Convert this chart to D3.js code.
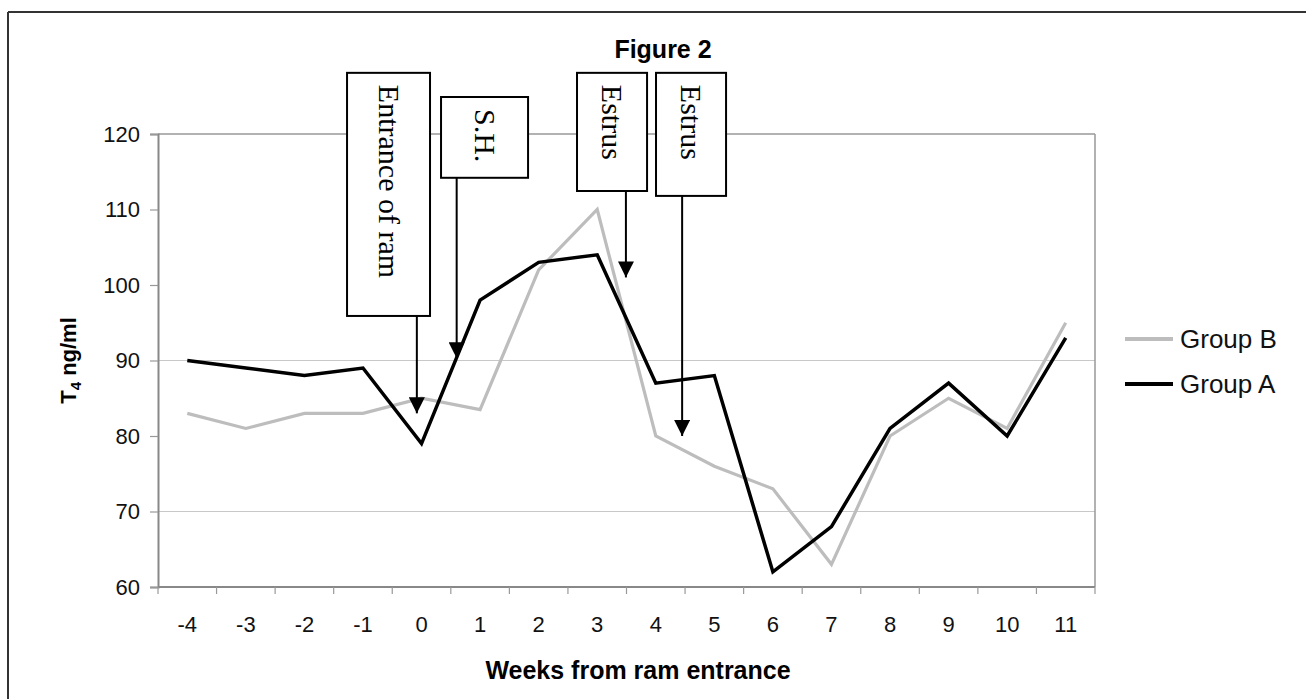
<!DOCTYPE html>
<html>
<head>
<meta charset="utf-8">
<script src="https://cdn.jsdelivr.net/npm/d3@7"></script>
<style>
  html, body { margin: 0; padding: 0; background: #fff; }
  svg { display: block; }
</style>
</head>
<body>
<svg id="chart" width="1314" height="699"></svg>
<script>
// ---- data ----
const weeks = [-4, -3, -2, -1, 0, 1, 2, 3, 4, 5, 6, 7, 8, 9, 10, 11];
const groupA = [90, 89, 88, 89, 79, 98, 103, 104, 87, 88, 62, 68, 81, 87, 80, 93];
const groupB = [83, 81, 83, 83, 85, 83.5, 102, 110, 80, 76, 73, 63, 80, 85, 81, 95];
const yTicks = [60, 70, 80, 90, 100, 110, 120];
const gridValues = [70, 90];
const seriesNames = ["Group B", "Group A"];
const seriesColors = ["#bdbdbd", "#000000"];

// annotations (week position of arrow, arrow tip value, box extents in weeks / values)
const annLabels = ["Entrance of ram", "S.H.", "Estrus", "Estrus"];
const annArrowWeek = [-0.08, 0.60, 3.49, 4.45];
const annArrowTip = [83.0, 90.3, 101.0, 80.0];
const annBoxLeft = [-1.272, 0.333, 2.655, 4.004];
const annBoxRight = [0.145, 1.819, 3.851, 5.200];
const annBoxTop = [128.1, 124.9, 128.1, 128.1];
const annBoxBottom = [95.9, 114.2, 112.45, 111.8];

const titleText = "Figure 2";
const xTitle = "Weeks from ram entrance";

// ---- layout ----
const svg = d3.select("#chart");
const plot = { left: 158, right: 1095, top: 134, bottom: 587 };

const x = d3.scalePoint().domain(weeks).range([plot.left, plot.right]).padding(0.5);
const step = x.step();
const xw = w => x(weeks[0]) + (w - weeks[0]) * step;
const y = d3.scaleLinear().domain([60, 120]).range([plot.bottom, plot.top]);

// outer frame (top + left)
svg.append("line").attr("x1", 8).attr("x2", 1306).attr("y1", 12).attr("y2", 12)
  .attr("stroke", "#333").attr("stroke-width", 2);
svg.append("line").attr("x1", 8).attr("x2", 8).attr("y1", 12).attr("y2", 699)
  .attr("stroke", "#333").attr("stroke-width", 2);

// gridlines
svg.append("g").selectAll("line").data(gridValues).join("line")
  .attr("x1", plot.left).attr("x2", plot.right)
  .attr("y1", d => y(d)).attr("y2", d => y(d))
  .attr("stroke", "#c8c8c8").attr("stroke-width", 1);

// plot border (top and right)
svg.append("line").attr("x1", plot.left).attr("x2", plot.right)
  .attr("y1", y(120)).attr("y2", y(120)).attr("stroke", "#999").attr("stroke-width", 1.5);
svg.append("line").attr("x1", plot.right).attr("x2", plot.right)
  .attr("y1", y(120)).attr("y2", y(60)).attr("stroke", "#999").attr("stroke-width", 1.5);

// y axis
const yAxis = d3.axisLeft(y).tickValues(yTicks).tickSize(8).tickPadding(10);
const gy = svg.append("g").attr("transform", `translate(${plot.left},0)`).call(yAxis);
gy.select(".domain").attr("stroke", "#888").attr("stroke-width", 2);
gy.selectAll(".tick line").attr("stroke", "#999").attr("stroke-width", 1.2);
gy.selectAll(".tick text").attr("font-family", "Liberation Sans, Arial, sans-serif")
  .attr("font-size", 22).attr("fill", "#111");

// x axis (ticks at category boundaries)
const gx = svg.append("g").attr("transform", `translate(0,${plot.bottom})`);
gx.append("line").attr("x1", plot.left).attr("x2", plot.right).attr("y1", 0).attr("y2", 0)
  .attr("stroke", "#888").attr("stroke-width", 2);
const bounds = d3.range(weeks.length + 1).map(i => plot.left + i * step);
gx.selectAll("line.tk").data(bounds).join("line").attr("class", "tk")
  .attr("x1", d => d).attr("x2", d => d).attr("y1", 0).attr("y2", 7)
  .attr("stroke", "#999").attr("stroke-width", 1.2);
gx.selectAll("text").data(weeks).join("text")
  .attr("x", d => x(d)).attr("y", 45)
  .attr("text-anchor", "middle")
  .attr("font-family", "Liberation Sans, Arial, sans-serif")
  .attr("font-size", 22).attr("fill", "#111")
  .text(d => d);

// lines
const line = d3.line().x((d, i) => x(weeks[i])).y(d => y(d));
svg.append("path").datum(groupB).attr("d", line)
  .attr("fill", "none").attr("stroke", seriesColors[0]).attr("stroke-width", 3.2)
  .attr("stroke-linejoin", "miter");
svg.append("path").datum(groupA).attr("d", line)
  .attr("fill", "none").attr("stroke", seriesColors[1]).attr("stroke-width", 3.5)
  .attr("stroke-linejoin", "miter");

// annotations
const defs = svg.append("defs");
defs.append("marker").attr("id", "arrow")
  .attr("viewBox", "0 0 16 16").attr("refX", 16).attr("refY", 8)
  .attr("markerWidth", 16).attr("markerHeight", 16)
  .attr("markerUnits", "userSpaceOnUse").attr("orient", "auto")
  .append("path").attr("d", "M0,0 L16,8 L0,16 Z").attr("fill", "#000");

const ann = svg.append("g");
annLabels.forEach((lab, i) => {
  const bx0 = xw(annBoxLeft[i]), bx1 = xw(annBoxRight[i]);
  const by0 = y(annBoxTop[i]), by1 = y(annBoxBottom[i]);
  ann.append("rect").attr("x", bx0).attr("y", by0)
    .attr("width", bx1 - bx0).attr("height", by1 - by0)
    .attr("fill", "#fff").attr("stroke", "#000").attr("stroke-width", 2);
  const cx = (bx0 + bx1) / 2;
  ann.append("text")
    .attr("transform", `translate(${cx - 10},${by0 + 12}) rotate(90)`)
    .attr("font-family", "Liberation Serif, Times New Roman, serif")
    .attr("font-size", 30).attr("fill", "#000")
    .text(lab);
  ann.append("line")
    .attr("x1", xw(annArrowWeek[i])).attr("x2", xw(annArrowWeek[i]))
    .attr("y1", by1).attr("y2", y(annArrowTip[i]))
    .attr("stroke", "#000").attr("stroke-width", 2)
    .attr("marker-end", "url(#arrow)");
});

// title
svg.append("text").attr("x", 663).attr("y", 58).attr("text-anchor", "middle")
  .attr("font-family", "Liberation Sans, Arial, sans-serif").attr("font-weight", "bold")
  .attr("font-size", 25).attr("fill", "#000").text(titleText);

// x title
svg.append("text").attr("x", 638).attr("y", 679).attr("text-anchor", "middle")
  .attr("font-family", "Liberation Sans, Arial, sans-serif").attr("font-weight", "bold")
  .attr("font-size", 25).attr("fill", "#000").text(xTitle);

// y title
const yt = svg.append("text")
  .attr("transform", `translate(76,${y(90)}) rotate(-90)`)
  .attr("text-anchor", "middle")
  .attr("font-family", "Liberation Sans, Arial, sans-serif").attr("font-weight", "bold")
  .attr("font-size", 22).attr("fill", "#000");
yt.append("tspan").text("T");
yt.append("tspan").attr("font-size", 15).attr("dy", 5).text("4");
yt.append("tspan").attr("dy", -5).text(" ng/ml");

// legend
const lg = svg.append("g");
const legendY = [339, 384];
seriesNames.forEach((name, i) => {
  lg.append("line").attr("x1", 1125).attr("x2", 1173)
    .attr("y1", legendY[i]).attr("y2", legendY[i])
    .attr("stroke", seriesColors[i]).attr("stroke-width", 4);
  lg.append("text").attr("x", 1180).attr("y", legendY[i] + 9)
    .attr("font-family", "Liberation Sans, Arial, sans-serif")
    .attr("font-size", 26).attr("fill", "#111").text(name);
});
</script>
</body>
</html>
